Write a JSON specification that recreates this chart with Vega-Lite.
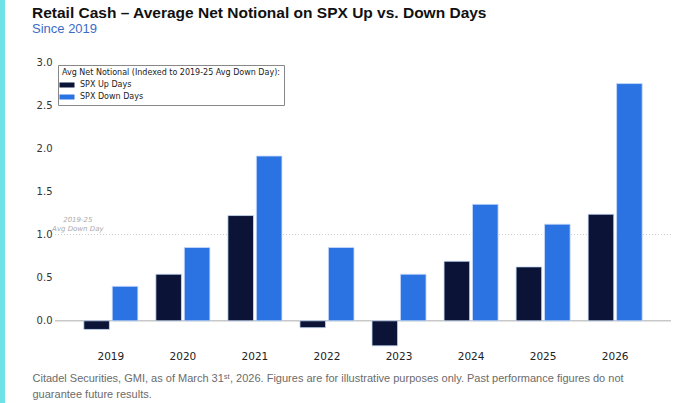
{
  "$schema": "https://vega.github.io/schema/vega-lite/v6.json",
  "padding": 0,
  "background": "white",
  "spacing": 27,
  "config": {"view": {"stroke": null}},
  "resolve": {"scale": {"color": "independent"}, "legend": {"color": "independent"}},
  "datasets": {
    "bars": [
      {"year": "2019", "series": "SPX Up Days", "value": -0.1},
      {"year": "2019", "series": "SPX Down Days", "value": 0.4},
      {"year": "2020", "series": "SPX Up Days", "value": 0.54},
      {"year": "2020", "series": "SPX Down Days", "value": 0.85},
      {"year": "2021", "series": "SPX Up Days", "value": 1.22},
      {"year": "2021", "series": "SPX Down Days", "value": 1.91},
      {"year": "2022", "series": "SPX Up Days", "value": -0.08},
      {"year": "2022", "series": "SPX Down Days", "value": 0.85},
      {"year": "2023", "series": "SPX Up Days", "value": -0.29},
      {"year": "2023", "series": "SPX Down Days", "value": 0.54},
      {"year": "2024", "series": "SPX Up Days", "value": 0.69},
      {"year": "2024", "series": "SPX Down Days", "value": 1.35},
      {"year": "2025", "series": "SPX Up Days", "value": 0.625},
      {"year": "2025", "series": "SPX Down Days", "value": 1.12},
      {"year": "2026", "series": "SPX Up Days", "value": 1.235},
      {"year": "2026", "series": "SPX Down Days", "value": 2.75}
    ],
    "refline": [
      {"label": "2019-25 Avg Down Day", "level": 1, "baseline": 0}
    ],
    "heading": [
      {"kind": "title", "line": "Retail Cash – Average Net Notional on SPX Up vs. Down Days"},
      {"kind": "subtitle", "line": "Since 2019"}
    ]
  },
  "hconcat": [
    {
      "width": 5,
      "height": 403,
      "data": {"values": [{}]},
      "view": {"fill": "#6fe2e8", "stroke": null},
      "mark": {"type": "text"},
      "encoding": {"text": {"value": ""}}
    },
    {
      "spacing": 20,
      "resolve": {"scale": {"color": "independent", "y": "independent", "x": "independent"}, "legend": {"color": "independent"}},
      "vconcat": [
        {
          "width": 1,
          "height": 31,
          "data": {"name": "heading"},
          "encoding": {
            "y": {
              "field": "kind",
              "type": "nominal",
              "scale": {"domain": ["title", "subtitle"], "paddingInner": 0, "paddingOuter": 0},
              "axis": null
            },
            "text": {"field": "line", "type": "nominal"}
          },
          "layer": [
            {
              "transform": [{"filter": "datum.kind === 'title'"}],
              "mark": {
                "type": "text",
                "align": "left",
                "baseline": "middle",
                "font": "Liberation Sans",
                "fontSize": 15.5,
                "fontWeight": "bold",
                "color": "#111111",
                "dx": -23.5,
                "dy": 5
              }
            },
            {
              "transform": [{"filter": "datum.kind === 'subtitle'"}],
              "mark": {
                "type": "text",
                "align": "left",
                "baseline": "middle",
                "font": "Liberation Sans",
                "fontSize": 13,
                "color": "#3a6cc6",
                "dx": -23.5,
                "dy": 6
              }
            }
          ]
        },
        {
          "width": 616,
          "height": 289,
          "layer": [
            {
              "data": {"name": "refline"},
              "mark": {"type": "rule", "color": "#cfcfcf", "strokeWidth": 1, "strokeDash": [1, 2]},
              "encoding": {"y": {"field": "level", "type": "quantitative"}}
            },
            {
              "data": {"name": "refline"},
              "mark": {"type": "rule", "color": "#c8c8c8", "strokeWidth": 1.5},
              "encoding": {"y": {"field": "baseline", "type": "quantitative"}}
            },
            {
              "data": {"name": "bars"},
              "mark": {"type": "bar", "stroke": "#c9dcfa", "strokeWidth": 0.8},
              "encoding": {
                "x": {
                  "field": "year",
                  "type": "nominal",
                  "scale": {"paddingInner": 0.25, "paddingOuter": 0.4},
                  "axis": {
                    "labelAngle": 0,
                    "domain": false,
                    "ticks": false,
                    "labelPadding": 0,
                    "labelFont": "DejaVu Sans",
                    "labelFontSize": 10.5,
                    "labelColor": "#222222",
                    "title": [
                      "Citadel Securities, GMI, as of March 31ˢᵗ, 2026. Figures are for illustrative purposes only. Past performance figures do not",
                      "guarantee future results."
                    ],
                    "titleAlign": "left",
                    "titleAnchor": "start",
                    "titleX": -23,
                    "titleY": 30,
                    "titleBaseline": "alphabetic",
                    "titleLineHeight": 16,
                    "titleFont": "Liberation Sans",
                    "titleFontSize": 11,
                    "titleFontWeight": "normal",
                    "titleColor": "#6b6b6b"
                  }
                },
                "xOffset": {
                  "field": "series",
                  "type": "nominal",
                  "sort": ["SPX Up Days", "SPX Down Days"],
                  "scale": {"paddingInner": 0.1}
                },
                "y": {
                  "field": "value",
                  "type": "quantitative",
                  "scale": {"domain": [-0.35, 3.0], "nice": false, "zero": false},
                  "axis": {
                    "values": [0, 0.5, 1, 1.5, 2, 2.5, 3],
                    "format": ".1f",
                    "grid": false,
                    "domain": false,
                    "ticks": false,
                    "labelPadding": 3,
                    "labelFont": "DejaVu Sans",
                    "labelFontSize": 10,
                    "labelColor": "#333333",
                    "title": null
                  }
                },
                "color": {
                  "field": "series",
                  "type": "nominal",
                  "sort": ["SPX Up Days", "SPX Down Days"],
                  "scale": {"domain": ["SPX Up Days", "SPX Down Days"], "range": ["#0b1437", "#2b73e3"]},
                  "legend": {
                    "title": "Avg Net Notional (Indexed to 2019-25 Avg Down Day):",
                    "titleLimit": 0,
                    "orient": "top-left",
                    "offset": 3,
                    "padding": 4,
                    "strokeColor": "#888888",
                    "fillColor": "white",
                    "cornerRadius": 0,
                    "titleFont": "DejaVu Sans",
                    "titleFontSize": 8,
                    "titleFontWeight": "normal",
                    "titleColor": "#222222",
                    "titlePadding": 3,
                    "labelFont": "DejaVu Sans",
                    "labelFontSize": 8,
                    "labelColor": "#222222",
                    "symbolType": "M-1.5,-0.5H1.5V0.5H-1.5Z",
                    "symbolSize": 100,
                    "symbolStrokeWidth": 0,
                    "symbolOpacity": 1,
                    "rowPadding": 3,
                    "labelOffset": 8
                  }
                }
              }
            },
            {
              "data": {"name": "refline"},
              "mark": {
                "type": "text",
                "fontStyle": "italic",
                "font": "DejaVu Sans",
                "fontSize": 7,
                "color": "#aaaaaa",
                "align": "center",
                "baseline": "bottom",
                "lineHeight": 9,
                "dx": -33,
                "dy": -12
              },
              "encoding": {
                "x": {"datum": "2019"},
                "y": {"field": "level", "type": "quantitative"},
                "text": {"value": ["2019-25", "Avg Down Day"]}
              }
            }
          ]
        }
      ]
    }
  ]
}
